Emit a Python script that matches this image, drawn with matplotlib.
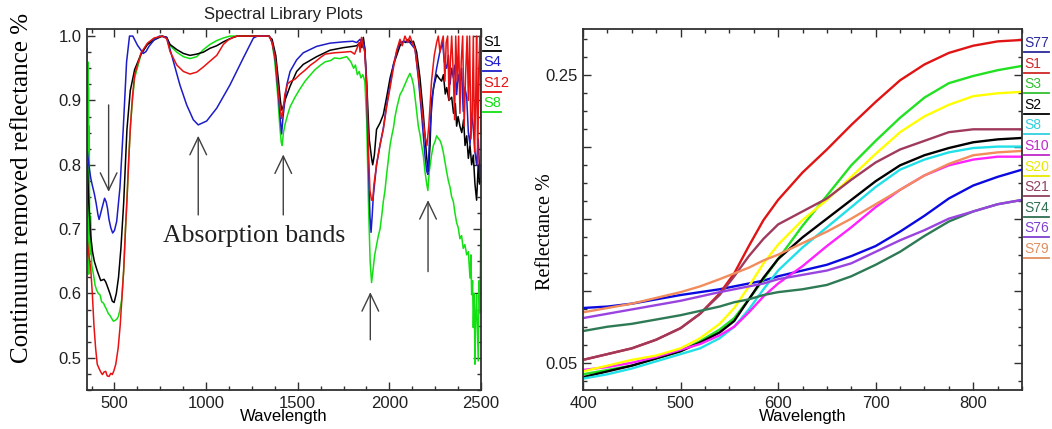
import matplotlib
matplotlib.use("Agg")
import matplotlib.pyplot as plt
from matplotlib.ticker import MultipleLocator, FixedLocator, FixedFormatter, FormatStrFormatter
from matplotlib.lines import Line2D

# ---------------- left panel: continuum removed spectra ----------------
s1_wl = [352, 360, 370, 380, 390, 406, 425, 443, 452, 460, 475, 488, 498, 510, 522, 535, 550, 568,
         586, 610, 645, 680, 716, 760, 785, 803, 840, 876, 912, 949, 985, 1021, 1058, 1094, 1130,
         1170, 1340, 1360, 1380, 1395, 1405, 1412, 1420, 1430, 1458, 1494, 1530, 1603, 1676, 1749,
         1800, 1822, 1840, 1850, 1858, 1866, 1876, 1890, 1903, 1909, 1918, 1930, 1949, 1967, 1985,
         2004, 2022, 2040, 2058, 2076, 2090, 2103, 2120, 2131, 2149, 2167, 2185, 2204, 2213, 2222,
         2230, 2245, 2258, 2270, 2285, 2295, 2305, 2313, 2325, 2340, 2350, 2360, 2367, 2375, 2385,
         2395, 2405, 2413, 2422, 2431, 2440, 2449, 2458, 2467, 2476, 2485, 2492, 2500]
s1_val = [.80, .74, .69, .665, .65, .635, .62, .622, .618, .612, .60, .588, .586, .60, .625, .67, .74, .855,
          .915, .948, .972, .987, .994, 1.0, .998, .987, .979, .973, .970, .972, .975, .981, .985, .991, .996,
          1.0, 1.0, .995, .97, .93, .90, .885, .89, .90, .922, .945, .956, .968, .978, .982,
          .984, .985, .99, .982, .998, .98, .93, .84, .81, .80, .815, .855, .865, .878, .905,
          .935, .955, .97, .985, .992, .99, .995, .99, .992, .975, .935, .88, .81, .79, .83,
          .90, .925, .94, .935, .93, .94, .91, .92, .90, .905, .88, .895, .86, .875, .86,
          .85, .87, .83, .845, .81, .83, .80, .815, .77, .745, .80, .77, .79]

s4_wl = [352, 360, 370, 379, 390, 400, 410, 416, 425, 434, 446, 455, 462, 470, 480, 490, 500, 512, 530,
         548, 566, 582, 600, 625, 657, 672, 688, 716, 745, 785, 821, 857, 894, 930, 957, 1003, 1058,
         1130, 1203, 1258, 1280, 1345, 1360, 1375, 1394, 1405, 1412, 1420, 1440, 1458, 1494, 1530,
         1603, 1676, 1749, 1800, 1822, 1840, 1850, 1858, 1866, 1876, 1886, 1894, 1900, 1906, 1912,
         1930, 1949, 1967, 1985, 2004, 2022, 2040, 2058, 2085, 2112, 2140, 2158, 2176, 2194, 2204,
         2210, 2222, 2240, 2258, 2275, 2290, 2300, 2313, 2322, 2331, 2340, 2349, 2358, 2367, 2376,
         2385, 2394, 2403, 2412, 2422, 2431, 2440, 2449, 2458, 2467, 2476, 2485, 2494, 2500]
s4_val = [.82, .80, .78, .768, .755, .74, .722, .715, .725, .735, .748, .742, .732, .715, .702, .694, .698, .712, .765,
          .857, .96, 1.0, 1.0, .986, .973, .976, .984, .994, 1.0, .998, .961, .924, .893, .870, .862, .868, .888,
          .924, .966, .997, 1.0, 1.0, .99, .97, .91, .87, .848, .875, .924, .945, .963, .974,
          .984, .989, .991, .992, .99, .995, .988, .993, .98, .92, .80, .72, .695, .72, .75,
          .80, .831, .857, .893, .925, .956, .976, .99, .992, .99, .98, .935, .878, .815, .79,
          .785, .857, .919, .95, .975, .99, .96, .95, .97, .925, .95, .935, .955, .909, .94,
          .925, .95, .883, .92, .905, .85, .831, .88, .857, .82, .80, .84, .78, .80]

s12_wl = [352, 360, 370, 379, 388, 397, 406, 415, 425, 434, 443, 452, 460, 470, 480, 488, 497, 507, 520,
          531, 540, 550, 560, 568, 578, 587, 598, 610, 645, 680, 716, 760, 785, 803, 840, 876, 912, 949,
          985, 1021, 1058, 1094, 1121, 1148, 1170, 1345, 1360, 1380, 1395, 1405, 1412, 1420, 1430, 1445,
          1458, 1485, 1510, 1540, 1570, 1595, 1625, 1650, 1700, 1750, 1790, 1810, 1822, 1835, 1840, 1848,
          1856, 1866, 1876, 1886, 1894, 1903, 1909, 1916, 1930, 1949, 1967, 1985, 2004, 2022, 2040, 2058,
          2070, 2085, 2100, 2112, 2125, 2140, 2158, 2176, 2194, 2205, 2215, 2230, 2245, 2258, 2267, 2276,
          2285, 2294, 2303, 2310, 2318, 2326, 2333, 2340, 2349, 2356, 2362, 2370, 2378, 2385, 2392, 2400,
          2408, 2416, 2424, 2431, 2438, 2445, 2452, 2458, 2465, 2471, 2476, 2482, 2488, 2494, 2500]
s12_val = [.68, .66, .64, .60, .55, .515, .49, .484, .478, .474, .478, .479, .472, .471, .476, .474, .480, .49, .515,
           .55, .59, .635, .70, .745, .81, .86, .905, .94, .974, .989, .997, 1.0, .996, .976, .955, .945, .941, .944,
           .952, .961, .970, .987, .994, .998, 1.0, 1.0, .99, .96, .91, .885, .872, .885, .91, .926,
           .929, .933, .94, .947, .955, .96, .967, .972, .974, .975, .976, .972, .98, .99, .975, .998,
           .985, .975, .92, .82, .76, .745, .745, .77, .80, .831, .855, .89, .92, .95, .978, .995,
           .985, 1.0, .99, 1.0, .99, .98, .94, .89, .845, .83, .86, .93, .97, .99, 1.0, .975,
           .99, 1.0, .93, .99, 1.0, .90, .96, 1.0, .94, .87, 1.0, .93, 1.0, .88, .96, 1.0,
           .86, .94, 1.0, .90, 1.0, .84, .88, 1.0, .82, .90, 1.0, .80, .95, 1.0, .85]

s8_wl = [350, 352, 354, 356, 358, 360, 362, 365, 370, 376, 385, 394, 403, 412, 421, 430, 440, 448, 457,
         466, 475, 485, 494, 503, 512, 521, 530, 539, 550, 560, 568, 578, 587, 598, 610, 645, 680, 716,
         760, 785, 803, 840, 876, 912, 949, 985, 1021, 1058, 1094, 1130, 1345, 1360, 1375, 1390, 1402,
         1410, 1415, 1422, 1430, 1445, 1458, 1485, 1510, 1540, 1570, 1595, 1625, 1650, 1680, 1700, 1730,
         1767, 1790, 1805, 1815, 1825, 1835, 1845, 1855, 1866, 1876, 1886, 1895, 1903, 1912, 1920, 1930,
         1940, 1949, 1958, 1967, 1976, 1985, 1995, 2004, 2013, 2022, 2031, 2040, 2050, 2058, 2070, 2085,
         2100, 2112, 2122, 2131, 2140, 2149, 2158, 2167, 2176, 2185, 2194, 2204, 2210, 2218, 2230, 2240,
         2249, 2258, 2267, 2276, 2285, 2294, 2303, 2312, 2322, 2331, 2340, 2349, 2358, 2367, 2376, 2385,
         2394, 2403, 2412, 2422, 2431, 2440, 2445, 2449, 2454, 2458, 2463, 2467, 2471, 2476, 2480, 2485,
         2490, 2494, 2498, 2500]
s8_val = [.98, .70, .96, .66, .92, .63, .86, .66, .72, .644, .63, .613, .605, .600, .598, .587, .585, .58, .575,
          .569, .566, .561, .557, .558, .56, .564, .575, .59, .635, .70, .745, .81, .86, .90, .935, .972, .988, .996,
          1.0, .997, .985, .975, .968, .965, .968, .979, .987, .993, .997, 1.0, 1.0, .99, .96, .91, .86,
          .835, .83, .85, .862, .878, .89, .905, .917, .93, .94, .948, .955, .960, .962, .966, .965,
          .968, .96, .95, .955, .94, .945, .935, .94, .93, .87, .74, .65, .617, .64, .66, .675,
          .69, .70, .72, .743, .76, .785, .81, .831, .845, .857, .875, .888, .90, .909, .915, .925,
          .935, .942, .935, .925, .905, .883, .86, .847, .83, .815, .79, .77, .76, .79, .815, .83,
          .836, .845, .841, .838, .831, .82, .805, .79, .775, .765, .75, .743, .725, .71, .702, .685,
          .69, .67, .676, .66, .665, .624, .66, .598, .62, .547, .60, .49, .56, .598, .55, .495,
          .62, .57, .67, .70]

left_series = [("S8", s8_wl, s8_val, "#12e012"),
               ("S1", s1_wl, s1_val, "#000000"),
               ("S4", s4_wl, s4_val, "#1c1cc8"),
               ("S12", s12_wl, s12_val, "#e81212")]
left_keys = [("S1", "#000000"), ("S4", "#1c1cc8"), ("S12", "#e81212"), ("S8", "#12e012")]

# ---------------- right panel: reflectance spectra ----------------
wl_right = [400, 425, 450, 475, 500, 520, 540, 555, 570, 585, 600, 625, 650, 675, 700, 725, 750, 775, 800, 825, 850]
r_s77 = [.088, .089, .091, .094, .097, .099, .101, .103, .105, .107, .110, .114, .118, .124, .131, .141, .152, .164, .173, .179, .184]
r_s1 = [.052, .056, .060, .066, .074, .084, .098, .112, .131, .149, .163, .182, .198, .215, .231, .246, .257, .265, .270, .273, .274]
r_s3 = [.042, .045, .048, .053, .058, .065, .073, .081, .094, .108, .122, .145, .166, .187, .204, .220, .234, .244, .249, .253, .256]
r_s2 = [.040, .044, .048, .053, .058, .064, .071, .079, .094, .109, .122, .137, .150, .163, .176, .187, .194, .199, .203, .205, .206]
r_s8 = [.039, .042, .046, .051, .056, .060, .067, .075, .087, .101, .114, .130, .144, .158, .172, .184, .191, .196, .199, .200, .200]
r_s10 = [.045, .047, .050, .054, .059, .063, .069, .075, .085, .096, .105, .117, .131, .144, .158, .170, .180, .187, .191, .193, .193]
r_s20 = [.044, .048, .052, .055, .060, .067, .077, .088, .103, .119, .132, .149, .163, .179, .195, .210, .221, .229, .235, .237, .238]
r_s21 = [.052, .056, .060, .066, .074, .084, .097, .110, .124, .136, .146, .155, .164, .177, .189, .198, .204, .210, .212, .212, .212]
r_s74 = [.072, .075, .077, .080, .083, .086, .089, .092, .094, .097, .099, .101, .104, .110, .118, .127, .138, .148, .155, .160, .163]
r_s76 = [.081, .084, .087, .090, .093, .096, .099, .101, .103, .105, .108, .111, .114, .119, .127, .135, .142, .150, .155, .160, .163]
r_s79 = [.085, .088, .091, .095, .099, .103, .108, .112, .116, .121, .125, .133, .141, .150, .160, .170, .180, .188, .194, .196, .197]

right_series = [("S77", r_s77, "#0a0ae0", "#2a2a9a"),
                ("S1", r_s1, "#e01414", "#d02828"),
                ("S3", r_s3, "#22e022", "#30c030"),
                ("S2", r_s2, "#000000", "#000000"),
                ("S8", r_s8, "#22e0e8", "#30d0e0"),
                ("S10", r_s10, "#ff22ff", "#c028c8"),
                ("S20", r_s20, "#ffff00", "#e8e800"),
                ("S21", r_s21, "#a03a5c", "#904060"),
                ("S74", r_s74, "#2e7a55", "#2e7050"),
                ("S76", r_s76, "#9a44e0", "#8040d0"),
                ("S79", r_s79, "#f28c5c", "#e09060")]

# ---------------- figure ----------------
plt.rcParams["font.family"] = ["Liberation Sans", "DejaVu Sans"]

W, H = 1052, 429
fig = plt.figure(figsize=(W / 100, H / 100), dpi=100)


def box(x0, y0, x1, y1):
    return [x0 / W, 1 - y1 / H, (x1 - x0) / W, (y1 - y0) / H]


def style_axes(ax):
    for s in ax.spines.values():
        s.set_color("#303030")
        s.set_linewidth(1.3)
    ax.tick_params(which="both", direction="in", top=True, right=True,
                   colors="#303030", labelcolor="#202020", labelsize=12)
    ax.tick_params(which="major", length=6, width=1.0, pad=4)
    ax.tick_params(which="minor", length=3, width=1.0)


def key(x, y, text, tcolor, lcolor, length, size):
    fig.text(x / W, 1 - y / H, text, color=tcolor, fontsize=size, ha="left", va="center")
    fig.add_artist(Line2D([x / W, (x + length) / W], [1 - (y + 9) / H] * 2,
                          transform=fig.transFigure, color=lcolor, lw=1.3))


ax1 = fig.add_axes(box(87, 29, 481, 390))
for name, wl, vals, col in left_series:
    ax1.plot(wl, vals, color=col, lw=1.1)
ax1.set_xlim(350, 2500)
ax1.set_ylim(0.45, 1.011)
ax1.xaxis.set_major_locator(MultipleLocator(500))
ax1.xaxis.set_minor_locator(MultipleLocator(125))
ax1.yaxis.set_major_locator(MultipleLocator(0.1))
ax1.yaxis.set_minor_locator(MultipleLocator(0.025))
ax1.yaxis.set_major_formatter(FormatStrFormatter("%.1f"))
style_axes(ax1)
ax1.set_xlabel("Wavelength", fontsize=12, labelpad=-1)

# absorption band markers
arrow_kw = dict(arrowstyle="->,head_length=1.25,head_width=0.6", color="#404040",
                lw=1.0, shrinkA=0, shrinkB=0, mutation_scale=10)
ax1.annotate("", xy=(468, 0.758), xytext=(468, 0.893), arrowprops=arrow_kw)
for x_tip, y_tip, y_tail in [(957, 0.845, 0.722), (1421, 0.816, 0.722),
                             (1896, 0.602, 0.528), (2211, 0.745, 0.634)]:
    ax1.annotate("", xy=(x_tip, y_tip), xytext=(x_tip, y_tail), arrowprops=arrow_kw)
ax1.text(1263, 0.689, "Absorption bands", family="Liberation Serif", fontsize=18.5,
         ha="center", va="center", color="#202020")

fig.text(283 / W, 1 - 15 / H, "Spectral Library Plots", fontsize=12, ha="center",
         va="center", color="#202020")
fig.text(22 / W, 1 - 188 / H, "Continuum removed reflectance %", family="Liberation Serif",
         fontsize=18, rotation=90, ha="center", va="center")

for i, (name, col) in enumerate(left_keys):
    key(483, 42 + 20.3 * i, name, col, col, 18, 10.5)

ax2 = fig.add_axes(box(583, 29, 1022, 390))
for name, vals, col, tcol in right_series:
    ax2.plot(wl_right, vals, color=col, lw=1.7)
ax2.set_xlim(400, 850)
ax2.set_ylim(0.0311, 0.2816)
ax2.xaxis.set_major_locator(MultipleLocator(100))
ax2.xaxis.set_minor_locator(MultipleLocator(25))
ax2.yaxis.set_major_locator(FixedLocator([0.05, 0.10, 0.15, 0.20, 0.25]))
ax2.yaxis.set_major_formatter(FixedFormatter(["0.05", "", "", "", "0.25"]))
ax2.yaxis.set_minor_locator(MultipleLocator(0.0125))
style_axes(ax2)
ax2.set_xlabel("Wavelength", fontsize=12, labelpad=-1)
fig.text(546 / W, 1 - 232 / H, "Reflectance %", family="Liberation Serif",
         fontsize=14.5, rotation=90, ha="center", va="center")

for i, (name, vals, col, tcol) in enumerate(right_series):
    key(1024, 43 + 20.6 * i, name, tcol, tcol, 25, 10)

fig.savefig("out.png", dpi=100)
